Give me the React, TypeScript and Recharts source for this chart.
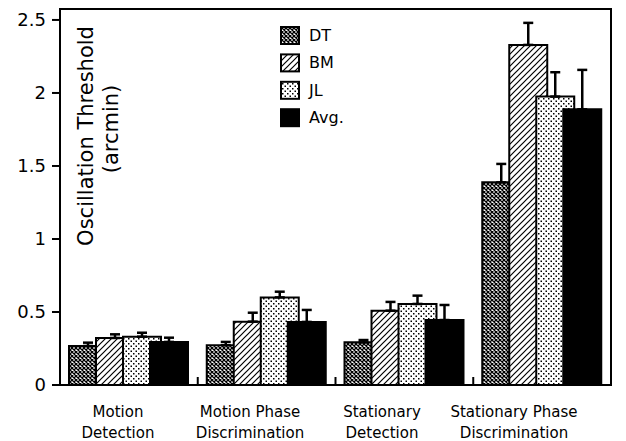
import React from 'react';
import { BarChart, Bar, XAxis, YAxis, ErrorBar, Legend, ReferenceArea, Label } from 'recharts';

const categories = [
  'Motion Detection',
  'Motion Phase Discrimination',
  'Stationary Detection',
  'Stationary Phase Discrimination',
];
const categoryLines = [
  ['Motion', 'Detection'],
  ['Motion Phase', 'Discrimination'],
  ['Stationary', 'Detection'],
  ['Stationary Phase', 'Discrimination'],
];
const dtValues = [0.267, 0.272, 0.292, 1.388];
const dtErrors = [0.023, 0.023, 0.016, 0.126];
const bmValues = [0.322, 0.434, 0.509, 2.329];
const bmErrors = [0.025, 0.061, 0.06, 0.151];
const jlValues = [0.331, 0.6, 0.555, 1.975];
const jlErrors = [0.027, 0.039, 0.057, 0.167];
const avgValues = [0.295, 0.432, 0.445, 1.888];
const avgErrors = [0.029, 0.082, 0.103, 0.27];
const yTicks = [0, 0.5, 1, 1.5, 2, 2.5];
const seriesNames = ['DT', 'BM', 'JL', 'Avg.'];
const yMax = 2.575;

const data = categories.map((name, i) => ({
  name,
  dt: dtValues[i],
  dtErr: [0, dtErrors[i]],
  bm: bmValues[i],
  bmErr: [0, bmErrors[i]],
  jl: jlValues[i],
  jlErr: [0, jlErrors[i]],
  avg: avgValues[i],
  avgErr: [0, avgErrors[i]],
}));

const fills = ['url(#pDT)', 'url(#pBM)', 'url(#pJL)', '#000'];
const TEXT_FONT = '"DejaVu Sans", sans-serif';

const renderLegend = () => (
  <svg width={100} height={112} style={{ display: 'block' }}>
    {seriesNames.map((s, i) => {
      const cy = 15 + i * 27.4;
      return (
        <g key={s}>
          <rect x={7} y={cy - 8} width={18} height={17} fill={fills[i]} stroke="#000" strokeWidth={2} />
          <text x={35} y={cy + 6} fontFamily={TEXT_FONT} fontSize={16} fill="#000">
            {s}
          </text>
        </g>
      );
    })}
  </svg>
);

const CategoryTick = (props: any) => {
  const { x, y, payload } = props;
  const idx = categories.indexOf(payload.value);
  const lines = categoryLines[idx] || [];
  return (
    <g>
      {lines.map((t, k) => (
        <text
          key={k}
          x={x}
          y={y + 31 + k * 21}
          textAnchor="middle"
          fontFamily={TEXT_FONT}
          fontSize={15}
          fill="#000"
        >
          {t}
        </text>
      ))}
    </g>
  );
};

const DivTick = (props: any) => {
  const { x, y } = props;
  return <line x1={x} x2={x} y1={y} y2={y - 8} stroke="#000" strokeWidth={2} />;
};

const YLabel = (props: any) => {
  const vb = props.viewBox || { x: 0, y: 9, width: 60, height: 376 };
  const x0 = vb.x + vb.width;
  return (
    <g>
      <text
        transform={`translate(${x0 + 33},136) rotate(-90)`}
        textAnchor="middle"
        fontFamily={TEXT_FONT}
        fontSize={21}
        fill="#000"
      >
        Oscillation Threshold
      </text>
      <text
        transform={`translate(${x0 + 58},129) rotate(-90)`}
        textAnchor="middle"
        fontFamily={TEXT_FONT}
        fontSize={21}
        fill="#000"
      >
        (arcmin)
      </text>
    </g>
  );
};

export default function App() {
  return (
    <div style={{ position: 'absolute', left: 0, top: 0, background: '#fff' }}>
      <BarChart
        width={626}
        height={441}
        data={data}
        margin={{ top: 9, right: 15, left: 0, bottom: 0 }}
        barSize={38}
        barGap={-11}
      >
        <defs>
          <pattern id="pDT" width={4} height={4} patternUnits="userSpaceOnUse">
            <rect width={4} height={4} fill="#fff" />
            <path d="M0,0L4,4M4,0L0,4" stroke="#000" strokeWidth={1.3} />
          </pattern>
          <pattern id="pBM" width={6} height={6} patternUnits="userSpaceOnUse">
            <rect width={6} height={6} fill="#fff" />
            <path d="M0,6L6,0M-1,1L1,-1M5,7L7,5" stroke="#000" strokeWidth={1.2} />
          </pattern>
          <pattern id="pJL" width={5} height={5} patternUnits="userSpaceOnUse">
            <rect width={5} height={5} fill="#fff" />
            <rect x={0.5} y={0.5} width={1.5} height={1.5} fill="#000" />
            <rect x={3} y={3} width={1.5} height={1.5} fill="#000" />
          </pattern>
        </defs>
        <XAxis
          dataKey="name"
          type="category"
          height={0}
          tick={false}
          tickLine={false}
          axisLine={false}
        />
        <XAxis
          xAxisId="div"
          dataKey="name"
          type="category"
          scale="point"
          padding={{ left: 137.75, right: 0 }}
          tickSize={0}
          tickMargin={0}
          tick={<DivTick />}
          tickLine={false}
          axisLine={false}
          height={1}
          interval={0}
        />
        <XAxis
          xAxisId="lbl"
          dataKey="name"
          type="category"
          padding={{ left: -8, right: 31 }}
          tickSize={0}
          tickMargin={0}
          tickLine={false}
          axisLine={false}
          height={55}
          tick={<CategoryTick />}
          interval={0}
        />
        <YAxis
          domain={[0, yMax]}
          ticks={yTicks}
          allowDataOverflow
          width={60}
          tickSize={8}
          tickMargin={6}
          tick={{ fontFamily: '"DejaVu Sans", sans-serif', fontSize: 18, fill: '#000' }}
          tickLine={{ stroke: '#000', strokeWidth: 2 }}
          axisLine={{ stroke: '#000', strokeWidth: 2 }}
        >
          <Label content={<YLabel />} />
        </YAxis>
        <Legend
          layout="vertical"
          align="center"
          verticalAlign="middle"
          content={renderLegend}
          wrapperStyle={{ left: 274, top: 20, width: 100, height: 112 }}
        />
        <Bar dataKey="dt" name="DT" fill={fills[0]} stroke="#000" strokeWidth={2} isAnimationActive={false}>
          <ErrorBar dataKey="dtErr" direction="y" width={5} stroke="#000" strokeWidth={2.5} />
        </Bar>
        <Bar dataKey="bm" name="BM" fill={fills[1]} stroke="#000" strokeWidth={2} isAnimationActive={false}>
          <ErrorBar dataKey="bmErr" direction="y" width={5} stroke="#000" strokeWidth={2.5} />
        </Bar>
        <Bar dataKey="jl" name="JL" fill={fills[2]} stroke="#000" strokeWidth={2} isAnimationActive={false}>
          <ErrorBar dataKey="jlErr" direction="y" width={5} stroke="#000" strokeWidth={2.5} />
        </Bar>
        <Bar dataKey="avg" name="Avg." fill={fills[3]} stroke="#000" strokeWidth={2} isAnimationActive={false}>
          <ErrorBar dataKey="avgErr" direction="y" width={5} stroke="#000" strokeWidth={2.5} />
        </Bar>
        <ReferenceArea
          x1={categories[0]}
          x2={categories[3]}
          y1={0}
          y2={yMax}
          fill="none"
          stroke="#000"
          strokeWidth={2}
          fillOpacity={0}
        />
      </BarChart>
    </div>
  );
}
